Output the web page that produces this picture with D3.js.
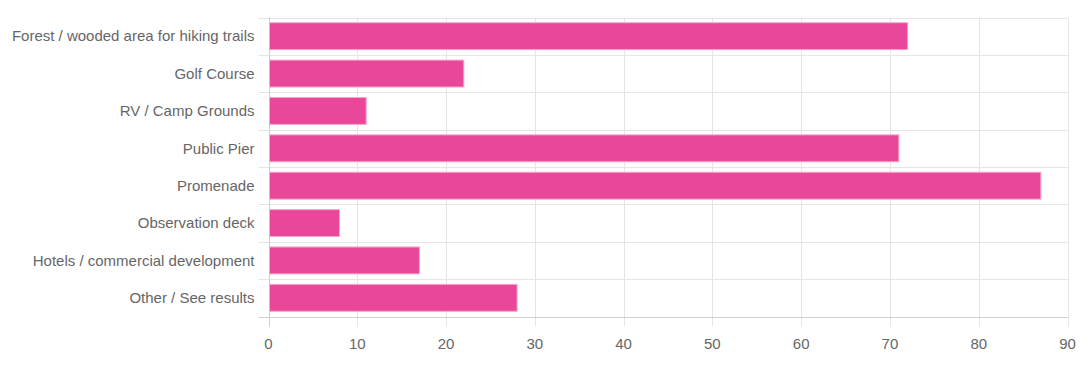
<!DOCTYPE html>
<html>
<head>
<meta charset="utf-8">
<script src="https://cdn.jsdelivr.net/npm/d3@7"></script>
<style>
  body { margin: 0; background: #fff; }
  text { font-family: "Liberation Sans", Arial, sans-serif; }
</style>
</head>
<body>
<div id="chart"></div>
<script>
const categories = [
  "Forest / wooded area for hiking trails",
  "Golf Course",
  "RV / Camp Grounds",
  "Public Pier",
  "Promenade",
  "Observation deck",
  "Hotels / commercial development",
  "Other / See results"
];
const values = [72, 22, 11, 71, 87, 8, 17, 28];
const xTicks = [0, 10, 20, 30, 40, 50, 60, 70, 80, 90];

const width = 1090, height = 375;
const margin = { top: 17.5, right: 22.5, bottom: 58.5, left: 268.5 };

const svg = d3.select("#chart").append("svg")
  .attr("width", width)
  .attr("height", height);

const x = d3.scaleLinear().domain([0, 90]).range([margin.left, width - margin.right]);
const y = d3.scaleBand().domain(categories).range([margin.top, height - margin.bottom]);

const grid = "#e5e5e5";

// vertical grid lines with ticks below the axis
svg.append("g").selectAll("line")
  .data(xTicks)
  .join("line")
  .attr("x1", d => Math.round(x(d)) + 0.5)
  .attr("x2", d => Math.round(x(d)) + 0.5)
  .attr("y1", margin.top)
  .attr("y2", height - margin.bottom + 10)
  .attr("stroke", grid);

// horizontal grid lines, extending left as ticks
const bounds = categories.map(c => y(c)).concat([height - margin.bottom]);
svg.append("g").selectAll("line")
  .data(bounds)
  .join("line")
  .attr("x1", margin.left - 10)
  .attr("x2", width - margin.right)
  .attr("y1", d => Math.round(d) + 0.5)
  .attr("y2", d => Math.round(d) + 0.5)
  .attr("stroke", grid);

// axis lines
svg.append("line")
  .attr("x1", margin.left - 10).attr("x2", width - margin.right)
  .attr("y1", Math.round(height - margin.bottom) + 0.5).attr("y2", Math.round(height - margin.bottom) + 0.5)
  .attr("stroke", "#cfcfcf");
svg.append("line")
  .attr("x1", Math.round(x(0)) + 0.5).attr("x2", Math.round(x(0)) + 0.5)
  .attr("y1", margin.top).attr("y2", height - margin.bottom + 10)
  .attr("stroke", "#cfcfcf");

// bars
const bandInner = y.bandwidth() * 0.72;
svg.append("g").selectAll("rect")
  .data(values)
  .join("rect")
  .attr("x", x(0) + 1)
  .attr("y", (d, i) => y(categories[i]) + (y.bandwidth() - bandInner) / 2)
  .attr("width", d => x(d) - x(0) - 1)
  .attr("height", bandInner)
  .attr("fill", "#e9489a")
  .attr("stroke", "#f6a6cc")
  .attr("stroke-width", 1);

// category labels
svg.append("g").selectAll("text")
  .data(categories)
  .join("text")
  .attr("x", margin.left - 14)
  .attr("y", d => y(d) + y.bandwidth() / 2)
  .attr("dy", "0.35em")
  .attr("text-anchor", "end")
  .attr("font-size", 15)
  .attr("fill", "#666")
  .text(d => d);

// x tick labels
svg.append("g").selectAll("text")
  .data(xTicks)
  .join("text")
  .attr("x", d => x(d))
  .attr("y", height - margin.bottom + 32)
  .attr("text-anchor", "middle")
  .attr("font-size", 15)
  .attr("fill", "#666")
  .text(d => d);
</script>
</body>
</html>
